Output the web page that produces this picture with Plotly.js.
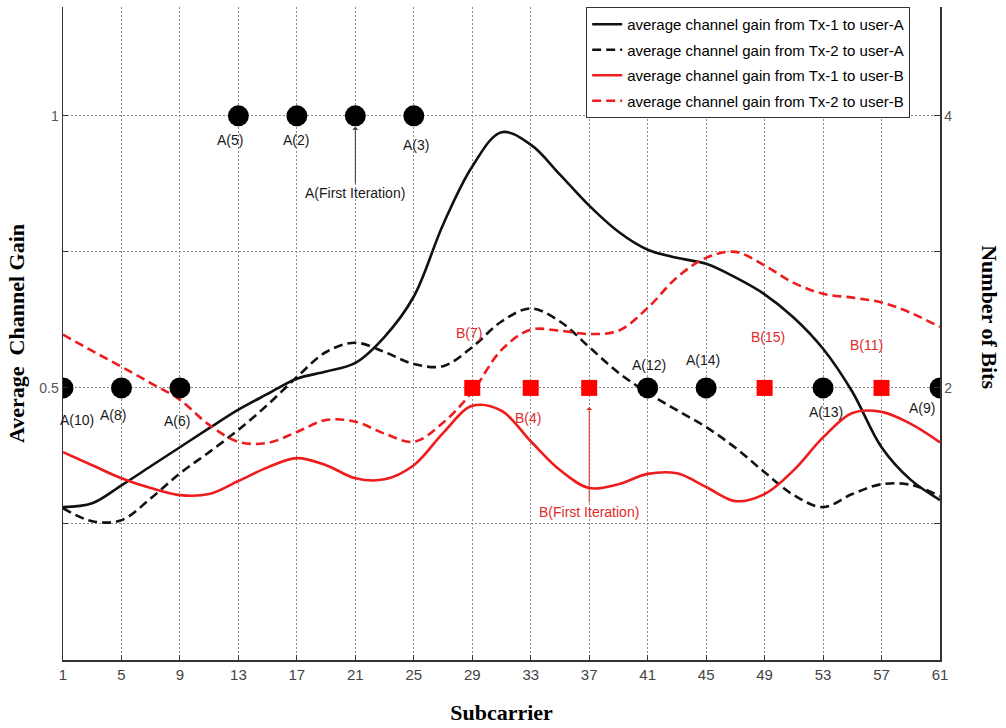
<!DOCTYPE html>
<html>
<head>
<meta charset="utf-8">
<script src="https://cdn.plot.ly/plotly-3.0.1.min.js"></script>
<style>
  html, body { margin: 0; padding: 0; background: #fff; }
  #chart { width: 1006px; height: 728px; }
</style>
</head>
<body>
<div id="chart"></div>
<script>
// Subcarrier index (odd subcarriers 1..61)
const subcarrier = [1, 3, 5, 7, 9, 11, 13, 15, 17, 19, 21, 23, 25, 27, 29, 31,
                    33, 35, 37, 39, 41, 43, 45, 47, 49, 51, 53, 55, 57, 59, 61];

// Average channel gain curves
const gainTx1UserA = [0.281, 0.288, 0.321, 0.356, 0.391, 0.426, 0.460, 0.489, 0.517, 0.530, 0.546,
                      0.594, 0.668, 0.800, 0.907, 0.970, 0.947, 0.892, 0.835, 0.787, 0.754,
                      0.739, 0.728, 0.703, 0.672, 0.629, 0.572, 0.493, 0.391, 0.331, 0.294];
const gainTx2UserA = [0.279, 0.255, 0.257, 0.297, 0.343, 0.382, 0.423, 0.469, 0.520, 0.566, 0.583,
                      0.566, 0.544, 0.540, 0.575, 0.622, 0.646, 0.622, 0.575, 0.528, 0.491,
                      0.459, 0.428, 0.390, 0.345, 0.303, 0.281, 0.305, 0.323, 0.322, 0.301];
const gainTx1UserB = [0.382, 0.358, 0.334, 0.316, 0.303, 0.305, 0.329, 0.354, 0.371, 0.358, 0.334,
                      0.332, 0.358, 0.417, 0.467, 0.458, 0.402, 0.349, 0.316, 0.323, 0.342,
                      0.343, 0.318, 0.292, 0.305, 0.349, 0.409, 0.454, 0.456, 0.434, 0.400];
const gainTx2UserB = [0.598, 0.568, 0.539, 0.509, 0.478, 0.432, 0.401, 0.399, 0.419, 0.441, 0.438,
                      0.416, 0.401, 0.436, 0.493, 0.570, 0.607, 0.605, 0.599, 0.605, 0.647,
                      0.703, 0.739, 0.750, 0.725, 0.693, 0.673, 0.666, 0.657, 0.638, 0.612];

const seriesNames = [
  'average channel gain from Tx-1 to user-A',
  'average channel gain from Tx-2 to user-A',
  'average channel gain from Tx-1 to user-B',
  'average channel gain from Tx-2 to user-B'
];

// Bit allocation: user-A subcarriers (circles) and user-B subcarriers (squares)
const userASubcarriers = [13, 17, 21, 25, 1, 5, 9, 41, 45, 53, 61];
const userABits       = [4, 4, 4, 4, 2, 2, 2, 2, 2, 2, 2];
const userALabels     = ['A(5)', 'A(2)', '', 'A(3)', 'A(10)', 'A(8)', 'A(6)', 'A(12)', 'A(14)', 'A(13)', 'A(9)'];

const userBSubcarriers = [29, 33, 37, 49, 57];
const userBBits        = [2, 2, 2, 2, 2];
const userBLabels      = ['B(7)', 'B(4)', '', 'B(15)', 'B(11)'];

// First-iteration pointers
const firstIterA = { label: 'A(First Iteration)', subcarrier: 21, bits: 4 };
const firstIterB = { label: 'B(First Iteration)', subcarrier: 37, bits: 2 };

// Tick labels
const xTicks = [1, 5, 9, 13, 17, 21, 25, 29, 33, 37, 41, 45, 49, 53, 57, 61];
const gainTicks = [0.25, 0.5, 0.75, 1];
const gainTickText = ['', '0.5', '', '1'];
const bitTicks = [1, 2, 3, 4];
const bitTickText = ['', '2', '', '4'];

// ---- styling ----
const BLACK = '#111111';
const RED = '#ee1c1c';
const SANS = '"Liberation Sans", Arial, sans-serif';
const SERIF = '"Liberation Serif", "Times New Roman", serif';
const dashPattern = '9px,5px';
const GRID = '#8a8a8a';

// label placement around each marker (pixels)
const labelShift = {
  'A(5)': [-8, -24], 'A(2)': [-1, -24], 'A(3)': [2, -29],
  'A(10)': [14, -32], 'A(8)': [-8, -27], 'A(6)': [-3, -33],
  'A(12)': [1, 23], 'A(14)': [-3, 28], 'A(13)': [3, -24], 'A(9)': [-18, -20],
  'B(7)': [-3, 55], 'B(4)': [-3, -30], 'B(15)': [3, 51], 'B(11)': [-15, 43]
};

const curveStyles = [
  { color: BLACK, dash: 'solid' },
  { color: BLACK, dash: dashPattern },
  { color: RED, dash: 'solid' },
  { color: RED, dash: dashPattern }
];
const curves = [gainTx1UserA, gainTx2UserA, gainTx1UserB, gainTx2UserB];

const traces = curves.map((vals, i) => ({
  type: 'scatter',
  mode: 'lines',
  x: subcarrier,
  y: vals,
  name: seriesNames[i],
  legendgroup: 'g' + i,
  line: { color: curveStyles[i].color, width: 2.6, dash: curveStyles[i].dash, shape: 'spline', smoothing: 1 },
  hoverinfo: 'skip'
}));

traces.push({
  type: 'scatter', mode: 'markers', x: userASubcarriers, y: userABits, yaxis: 'y2',
  marker: { symbol: 'circle', size: 21, color: '#000000' },
  showlegend: false, hoverinfo: 'skip'
});
traces.push({
  type: 'scatter', mode: 'markers', x: userBSubcarriers, y: userBBits, yaxis: 'y2',
  marker: { symbol: 'square', size: 16, color: '#ff0000' },
  showlegend: false, hoverinfo: 'skip'
});

const annotations = [];
function addLabels(xs, ys, labels, color) {
  labels.forEach((t, i) => {
    if (!t) return;
    const s = labelShift[t] || [0, -24];
    annotations.push({
      x: xs[i], y: ys[i], xref: 'x', yref: 'y2', text: t, showarrow: false,
      xshift: s[0], yshift: s[1],
      font: { family: SANS, size: 14, color: color }
    });
  });
}
addLabels(userASubcarriers, userABits, userALabels, '#1a1a1a');
addLabels(userBSubcarriers, userBBits, userBLabels, '#e02a2a');

annotations.push({
  x: firstIterA.subcarrier, y: firstIterA.bits, xref: 'x', yref: 'y2',
  text: firstIterA.label, showarrow: true, ax: 0, ay: 77, standoff: 11,
  arrowhead: 1, arrowsize: 1, arrowwidth: 1, arrowcolor: '#333333',
  font: { family: SANS, size: 14, color: '#1a1a1a' }
});
annotations.push({
  x: firstIterB.subcarrier, y: firstIterB.bits, xref: 'x', yref: 'y2',
  text: firstIterB.label, showarrow: true, ax: 0, ay: 124, standoff: 19,
  arrowhead: 1, arrowsize: 1, arrowwidth: 1, arrowcolor: '#e02a2a',
  font: { family: SANS, size: 14, color: '#e02a2a' }
});

// right-hand axis title, reading top to bottom
annotations.push({
  xref: 'paper', yref: 'paper', x: 1.057, y: 0.525, xanchor: 'center', yanchor: 'middle',
  text: '<b>Number of Bits</b>', showarrow: false, textangle: 90,
  font: { family: SERIF, size: 22, color: '#000000' }
});

const layout = {
  width: 1006, height: 728,
  margin: { l: 63, r: 66, t: 7, b: 68 },
  paper_bgcolor: '#ffffff', plot_bgcolor: '#ffffff',
  showlegend: true,
  legend: {
    x: 0.966, y: 1.0, xanchor: 'right', yanchor: 'top',
    bgcolor: '#ffffff', bordercolor: '#333333', borderwidth: 1,
    font: { family: SANS, size: 15, color: '#000000' },
    tracegroupgap: 3, traceorder: 'grouped'
  },
  xaxis: {
    range: [1, 61], tickvals: xTicks, ticktext: xTicks.map(String),
    showgrid: true, gridcolor: GRID, griddash: '2px,2px', gridwidth: 1,
    showline: true, linecolor: '#333333', linewidth: 1.5,
    ticks: 'inside', ticklen: 5, tickcolor: '#333333',
    zeroline: false,
    tickfont: { family: SANS, size: 15, color: '#444444' },
    title: { text: '<b>Subcarrier</b>', font: { family: SERIF, size: 22, color: '#000000' }, standoff: 23 }
  },
  yaxis: {
    range: [0, 1.2], tickvals: gainTicks, ticktext: gainTickText,
    showgrid: true, gridcolor: GRID, griddash: '2px,2px', gridwidth: 1,
    showline: true, linecolor: '#333333', linewidth: 1.5,
    ticks: 'inside', ticklen: 5, tickcolor: '#333333',
    zeroline: false,
    tickfont: { family: SANS, size: 14, color: '#555555' },
    title: { text: '<b>Average  Channel Gain</b>', font: { family: SERIF, size: 22, color: '#000000' }, standoff: 8 }
  },
  yaxis2: {
    overlaying: 'y', side: 'right', range: [0, 4.8],
    tickvals: bitTicks, ticktext: bitTickText,
    showgrid: false, showline: true, linecolor: '#333333', linewidth: 1.5,
    ticks: 'inside', ticklen: 6, tickcolor: '#333333',
    zeroline: false,
    tickfont: { family: SANS, size: 14, color: '#555555' }
  },
  annotations: annotations
};

Plotly.newPlot('chart', traces, layout, { displayModeBar: false, staticPlot: true });
</script>
</body>
</html>
